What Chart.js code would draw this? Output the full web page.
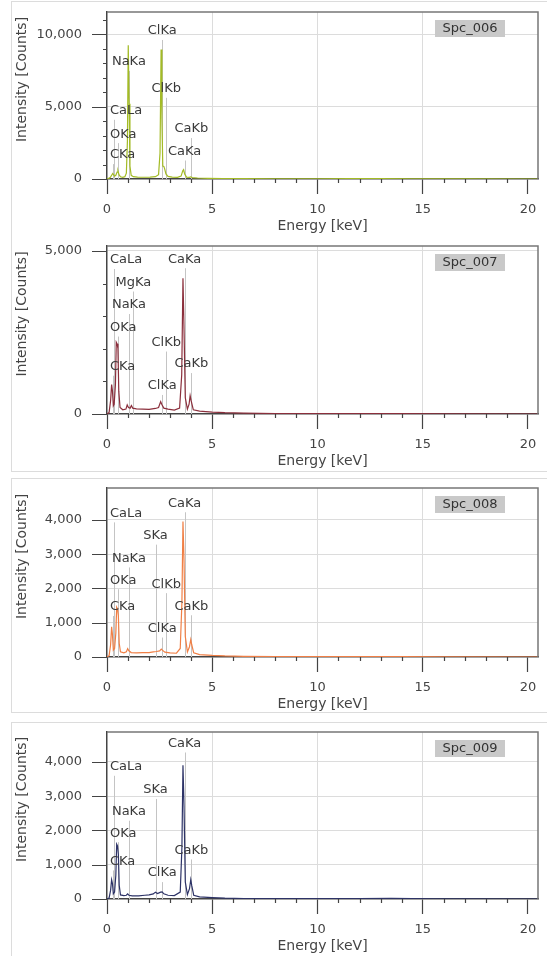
<!DOCTYPE html>
<html>
<head>
<meta charset="utf-8">
<script src="https://cdn.jsdelivr.net/npm/chart.js@4.4.0/dist/chart.umd.min.js"></script>
<style>
  body { margin: 0; background: #fff; width: 547px; height: 956px; overflow: hidden; position: relative; }
  .box { position: absolute; left: 11px; width: 545px; border: 1px solid #dcdcdc; box-sizing: border-box; }
  canvas { position: absolute; left: 11px; }
</style>
</head>
<body>
<div class="box" style="top:1px;height:471px"></div>
<div class="box" style="top:478px;height:235px"></div>
<div class="box" style="top:722px;height:240px"></div>
<canvas id="spc006" width="536" height="234" style="top:2px"></canvas>
<canvas id="spc007" width="536" height="235" style="top:236px"></canvas>
<canvas id="spc008" width="536" height="235" style="top:479px"></canvas>
<canvas id="spc009" width="536" height="233" style="top:723px"></canvas>
<script>
// X-ray line energies (keV)
const lineNames = ['CKa', 'OKa', 'NaKa', 'MgKa', 'SKa', 'ClKa', 'ClKb', 'CaKa', 'CaKb', 'CaLa'];
const lineKeV = [0.277, 0.525, 1.041, 1.254, 2.307, 2.622, 2.815, 3.691, 4.012, 0.341];
const energyTicks = [0, 5, 10, 15, 20];

// Spc_006
const energy006 = [0, 0.08, 0.16, 0.22, 0.27, 0.31, 0.36, 0.42, 0.48, 0.52, 0.57, 0.64, 0.75, 0.85, 0.92, 0.97, 1.01, 1.05, 1.09, 1.15, 1.25, 1.45, 1.75, 2.05, 2.3, 2.45, 2.52, 2.57, 2.61, 2.65, 2.7, 2.74, 2.8, 2.9, 3.1, 3.35, 3.52, 3.6, 3.64, 3.69, 3.78, 3.92, 3.98, 4.05, 4.3, 4.8, 5.5, 6.5, 8, 10, 11.5, 13, 14.5, 15.5, 17, 20.48];
const counts006 = [0, 40, 120, 260, 380, 300, 200, 260, 480, 560, 300, 150, 120, 160, 400, 2600, 9250, 5200, 900, 250, 160, 130, 120, 130, 160, 300, 1800, 8950, 4200, 900, 870, 700, 350, 180, 130, 110, 200, 560, 640, 350, 130, 110, 150, 100, 70, 50, 35, 25, 15, 10, 20, 20, 15, 5, 3, 0];
const countTicks006 = [0, 5000, 10000];
const tags006 = ['ClKa', 'NaKa', 'ClKb', 'CaLa', 'CaKb', 'OKa', 'CaKa', 'CKa'];
const tagY006 = [10230, 8090, 6230, 4710, 3450, 3100, 1900, 1650];

// Spc_007
const energy007 = [0, 0.1, 0.17, 0.22, 0.26, 0.3, 0.34, 0.4, 0.44, 0.48, 0.52, 0.56, 0.62, 0.75, 0.9, 0.96, 1.02, 1.1, 1.16, 1.22, 1.4, 1.7, 2, 2.3, 2.45, 2.55, 2.6, 2.7, 2.9, 3.2, 3.45, 3.55, 3.61, 3.66, 3.72, 3.82, 3.9, 3.95, 4, 4.1, 4.4, 5, 5.6, 6.5, 8, 10, 12, 14, 16, 20.48];
const counts007 = [0, 50, 400, 900, 700, 250, 300, 900, 2200, 2150, 2000, 700, 200, 130, 150, 280, 200, 180, 260, 180, 160, 150, 140, 170, 200, 380, 300, 180, 150, 120, 180, 1200, 4160, 2600, 500, 150, 300, 560, 400, 130, 90, 60, 40, 25, 15, 10, 10, 10, 5, 0];
const countTicks007 = [0, 5000];
const tags007 = ['CaLa', 'CaKa', 'MgKa', 'NaKa', 'OKa', 'ClKb', 'CaKb', 'CKa', 'ClKa'];
const tagY007 = [4720, 4745, 4030, 3340, 2650, 2190, 1530, 1450, 860];

// Spc_008
const energy008 = [0, 0.1, 0.17, 0.22, 0.26, 0.3, 0.36, 0.42, 0.46, 0.5, 0.54, 0.58, 0.64, 0.8, 0.92, 0.98, 1.04, 1.15, 1.4, 1.7, 2, 2.2, 2.35, 2.5, 2.58, 2.63, 2.75, 3, 3.3, 3.48, 3.56, 3.61, 3.66, 3.72, 3.82, 3.92, 3.98, 4.03, 4.12, 4.4, 5, 5.6, 6.5, 8, 10, 12.5, 14, 16, 20.48];
const counts008 = [0, 40, 350, 880, 650, 200, 250, 700, 1450, 1400, 1200, 400, 150, 120, 150, 245, 180, 130, 120, 130, 130, 150, 160, 180, 230, 200, 140, 120, 110, 250, 1600, 3950, 2800, 600, 150, 300, 510, 350, 120, 70, 45, 30, 20, 15, 10, 15, 10, 5, 0];
const countTicks008 = [0, 1000, 2000, 3000, 4000];
const tags008 = ['CaKa', 'CaLa', 'SKa', 'NaKa', 'OKa', 'ClKb', 'CKa', 'CaKb', 'ClKa'];
const tagY008 = [4485, 4190, 3540, 2875, 2240, 2125, 1460, 1480, 830];

// Spc_009
const energy009 = [0, 0.1, 0.17, 0.22, 0.26, 0.3, 0.36, 0.42, 0.46, 0.5, 0.54, 0.58, 0.64, 0.8, 0.92, 0.98, 1.04, 1.2, 1.5, 1.8, 2, 2.2, 2.3, 2.4, 2.55, 2.62, 2.7, 2.9, 3.2, 3.48, 3.56, 3.61, 3.66, 3.72, 3.82, 3.92, 3.98, 4.03, 4.12, 4.4, 5, 5.6, 6.5, 8, 10, 12, 13.5, 14.5, 15.5, 20.48];
const counts009 = [0, 30, 250, 560, 450, 150, 200, 700, 1600, 1550, 1300, 400, 120, 100, 110, 150, 110, 90, 90, 110, 120, 150, 200, 160, 200, 210, 150, 110, 100, 200, 1500, 3900, 2700, 500, 130, 300, 565, 380, 110, 60, 40, 25, 15, 10, 10, 15, 20, 15, 5, 0];
const countTicks009 = [0, 1000, 2000, 3000, 4000];
const tags009 = ['CaKa', 'CaLa', 'SKa', 'NaKa', 'OKa', 'CaKb', 'CKa', 'ClKa'];
const tagY009 = [4535, 3855, 3180, 2545, 1920, 1415, 1095, 755];

Chart.defaults.font.family = 'DejaVu Sans';

function spectrumPlugin(cfg) {
  return {
    id: 'spectrum',
    beforeDatasetsDraw(chart) {
      const { ctx, chartArea, scales: { x, y } } = chart;
      ctx.save();
      ctx.strokeStyle = '#c4c4c4';
      ctx.lineWidth = 1;
      cfg.tags.forEach((t, i) => {
        const px = Math.round(x.getPixelForValue(lineKeV[lineNames.indexOf(t)])) + 0.5;
        const py = y.getPixelForValue(cfg.tagY[i]) + 9;
        ctx.beginPath();
        ctx.moveTo(px, py);
        ctx.lineTo(px, chartArea.bottom);
        ctx.stroke();
      });
      ctx.restore();
    },
    afterDatasetsDraw(chart) {
      const { ctx, chartArea, scales: { x, y } } = chart;
      ctx.save();
      ctx.font = '13px "DejaVu Sans"';
      ctx.fillStyle = '#3a3a3a';
      ctx.textAlign = 'center';
      ctx.textBaseline = 'middle';
      cfg.tags.forEach((t, i) => {
        const w = ctx.measureText(t).width;
        let cx = x.getPixelForValue(lineKeV[lineNames.indexOf(t)]);
        cx = Math.max(cx, chartArea.left + 3 + w / 2);
        ctx.fillText(t, cx, y.getPixelForValue(cfg.tagY[i]));
      });
      ctx.restore();
    },
    afterDraw(chart) {
      const { ctx, chartArea, scales: { x, y } } = chart;
      ctx.save();
      // top and right frame
      ctx.strokeStyle = '#777';
      ctx.lineWidth = 1.5;
      ctx.beginPath();
      ctx.moveTo(chartArea.left, chartArea.top);
      ctx.lineTo(chartArea.right, chartArea.top);
      ctx.lineTo(chartArea.right, chartArea.bottom);
      ctx.stroke();
      // major y ticks and minor ticks
      ctx.strokeStyle = '#444';
      ctx.lineWidth = 1.2;
      ctx.beginPath();
      cfg.yTicks.forEach(v => {
        const py = Math.round(y.getPixelForValue(v)) + 0.5;
        ctx.moveTo(chartArea.left, py);
        ctx.lineTo(chartArea.left - 15, py);
      });
      for (let e = 1; e <= 20; e++) {
        if (e % 5 === 0) continue;
        const px = Math.round(x.getPixelForValue(e)) + 0.5;
        ctx.moveTo(px, chartArea.bottom);
        ctx.lineTo(px, chartArea.bottom + 4);
      }
      if (cfg.yMinor) {
        for (let v = cfg.yMinor; v < cfg.yMax; v += cfg.yMinor) {
          if (cfg.yTicks.includes(v)) continue;
          const py = Math.round(y.getPixelForValue(v)) + 0.5;
          ctx.moveTo(chartArea.left, py);
          ctx.lineTo(chartArea.left - 4, py);
        }
      }
      ctx.stroke();
      // y axis title
      ctx.fillStyle = '#444';
      ctx.font = '14px "DejaVu Sans"';
      ctx.textAlign = 'center';
      ctx.textBaseline = 'middle';
      ctx.translate(11, (chartArea.top + chartArea.bottom) / 2 - 16);
      ctx.rotate(-Math.PI / 2);
      ctx.fillText('Intensity [Counts]', 0, 0);
      ctx.restore();
      // spectrum name tag
      ctx.save();
      const rx = chartArea.right - 103, ry = chartArea.top + 8;
      ctx.fillStyle = '#c9c9c9';
      ctx.fillRect(rx, ry, 70, 17);
      ctx.fillStyle = '#333';
      ctx.font = '13px "DejaVu Sans"';
      ctx.textAlign = 'center';
      ctx.textBaseline = 'middle';
      ctx.fillText(cfg.name, rx + 35, ry + 9);
      ctx.restore();
    }
  };
}

function makeSpectrum(id, energies, counts, color, cfg) {
  const ctx = document.getElementById(id).getContext('2d');
  return new Chart(ctx, {
    type: 'line',
    data: {
      datasets: [{
        data: energies.map((e, i) => ({ x: e, y: counts[i] })),
        borderColor: color,
        borderWidth: 1.2,
        pointRadius: 0,
        tension: 0,
        fill: false
      }]
    },
    options: {
      responsive: false,
      animation: false,
      layout: { padding: { top: cfg.padTop, right: 9, left: 0, bottom: 0 } },
      plugins: { legend: { display: false }, tooltip: { enabled: false } },
      scales: {
        x: {
          type: 'linear',
          min: 0,
          max: 20.48,
          afterFit: s => { s.height = 57; },
          afterBuildTicks: s => { s.ticks = energyTicks.map(v => ({ value: v })); },
          ticks: { padding: 8, color: '#444', font: { size: 13 }, maxRotation: 0, autoSkip: false },
          grid: {
            color: c => (c.tick && c.tick.value > 0 && c.tick.value < 20) ? '#dcdcdc' : 'rgba(0,0,0,0)',
            tickColor: '#444', tickLength: 15, tickWidth: 1.2, lineWidth: 1
          },
          border: { display: true, color: '#444', width: 1.5 },
          title: { display: true, text: 'Energy [keV]', color: '#444', font: { size: 14 }, padding: { top: 0, bottom: 1 } }
        },
        y: {
          min: 0,
          max: cfg.yMax,
          afterFit: s => { s.width = 96; },
          afterBuildTicks: s => { s.ticks = cfg.yTicks.map(v => ({ value: v })); },
          ticks: { padding: 0, color: '#444', font: { size: 13 }, autoSkip: false, callback: v => v.toLocaleString('en-US') },
          grid: {
            color: c => (c.tick && c.tick.value > 0) ? '#dcdcdc' : 'rgba(0,0,0,0)',
            tickColor: 'rgba(0,0,0,0)', tickLength: 25, lineWidth: 1
          },
          border: { display: true, color: '#444', width: 1.5 }
        }
      }
    },
    plugins: [spectrumPlugin(cfg)]
  });
}

makeSpectrum('spc006', energy006, counts006, '#a3bb25',
  { name: 'Spc_006', padTop: 10, yMax: 11540, yTicks: countTicks006, yMinor: 1000, tags: tags006, tagY: tagY006 });
makeSpectrum('spc007', energy007, counts007, '#8b2f3c',
  { name: 'Spc_007', padTop: 10, yMax: 5150, yTicks: countTicks007, yMinor: 1000, tags: tags007, tagY: tagY007 });
makeSpectrum('spc008', energy008, counts008, '#f07f45',
  { name: 'Spc_008', padTop: 9, yMax: 4930, yTicks: countTicks008, yMinor: 0, tags: tags008, tagY: tagY008 });
makeSpectrum('spc009', energy009, counts009, '#2d3367',
  { name: 'Spc_009', padTop: 9, yMax: 4870, yTicks: countTicks009, yMinor: 0, tags: tags009, tagY: tagY009 });
</script>
</body>
</html>
